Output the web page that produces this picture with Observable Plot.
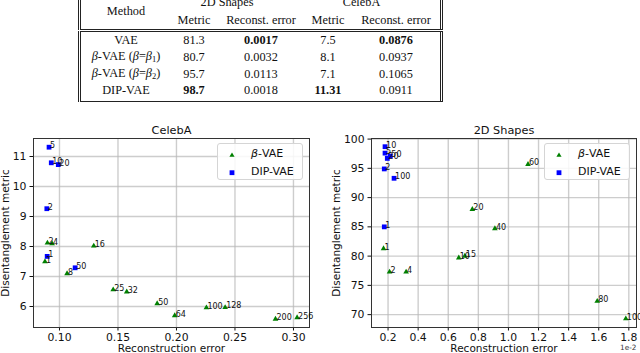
<!DOCTYPE html>
<html><head><meta charset="utf-8">
<script src="https://cdn.jsdelivr.net/npm/d3@7"></script>
<script src="https://cdn.jsdelivr.net/npm/@observablehq/plot@0.6"></script>
<style>
html,body{margin:0;padding:0;background:#fff;}
body{width:640px;height:353px;overflow:hidden;position:relative;font-family:"DejaVu Sans",sans-serif;}
.tb{position:absolute;box-sizing:border-box;border-left:3px double #222;border-right:3px double #222;}
.tc{position:absolute;transform:translate(-50%,-50%);white-space:nowrap;font-family:"Liberation Serif",serif;font-size:12.3px;color:#111;line-height:1;}
.tc sub{font-size:8.5px;vertical-align:-2px;}
.pl{position:absolute;top:110px;width:320px;height:243px;}
.lg{position:absolute;box-sizing:border-box;border:1px solid #d5d5d5;border-radius:3px;background:rgba(255,255,255,0.85);font-size:11px;color:#111;}
.lr{position:absolute;left:0;height:14px;line-height:14px;white-space:nowrap;}
.lr svg{position:absolute;left:9px;top:3px;}
.lr span{position:absolute;left:33px;top:0;}
</style></head><body>
<div id="table"></div>
<div id="left" class="pl" style="left:0"></div>
<div id="right" class="pl" style="left:320px"></div>
<script>
// ---------- table data ----------
const methodLabels = ["VAE", "<i>β</i>-VAE (<i>β</i>=<i>β</i><sub>1</sub>)", "<i>β</i>-VAE (<i>β</i>=<i>β</i><sub>2</sub>)", "DIP-VAE"];
const shapesMetric = ["81.3", "80.7", "95.7", "98.7"];
const shapesRecon = ["0.0017", "0.0032", "0.0113", "0.0018"];
const celebMetric = ["7.5", "8.1", "7.1", "11.31"];
const celebRecon = ["0.0876", "0.0937", "0.1065", "0.0911"];
const groupHeaders = ["2D Shapes", "CelebA"];
const subHeaders = ["Metric", "Reconst. error", "Metric", "Reconst. error"];

// ---------- CelebA scatter data ----------
const celebBetaLabels = ["1","2","4","8","16","25","32","50","64","100","128","200","256"];
const celebBetaX = [0.0876,0.0897,0.0937,0.1065,0.1293,0.1459,0.1575,0.1835,0.1985,0.2256,0.2416,0.2846,0.3031];
const celebBetaY = [7.5,8.12,8.1,7.1,8.02,6.56,6.49,6.1,5.7,5.96,5.97,5.58,5.63];
const celebDipLabels = ["1","2","5","10","20","50"];
const celebDipX = [0.0895,0.0892,0.0911,0.093,0.099,0.1134];
const celebDipY = [7.67,9.26,11.31,10.79,10.73,7.29];

// ---------- 2D Shapes scatter data (x in units of 1e-2) ----------
const shapesBetaLabels = ["1","2","4","10","15","20","40","60","80","100"];
const shapesBetaX = [0.17,0.21,0.32,0.67,0.71,0.76,0.91,1.13,1.59,1.78];
const shapesBetaY = [81.3,77.3,77.3,79.7,80.0,88.0,84.7,95.7,72.3,69.3];
const shapesDipLabels = ["1","2","5","10","20","50","100"];
const shapesDipX = [0.175,0.175,0.18,0.18,0.195,0.215,0.24];
const shapesDipY = [85.0,94.9,97.6,98.7,96.7,97.1,93.3];

// ---------- ticks ----------
const celebXTicks = [0.10,0.15,0.20,0.25,0.30];
const celebYTicks = [6,7,8,9,10,11];
const shapesXTicks = [0.2,0.4,0.6,0.8,1.0,1.2,1.4,1.6,1.8];
const shapesYTicks = [70,75,80,85,90,95,100];
const legendLabels = ["<i>β</i>-VAE", "DIP-VAE"];

// ---------- table ----------
const T = document.getElementById("table");
function box(top, bottom){
  const d = document.createElement("div"); d.className = "tb";
  d.style.left = "78px"; d.style.width = "365px"; d.style.top = top + "px"; d.style.height = (bottom - top) + "px";
  d.style.borderTop = "1px solid #222"; d.style.borderBottom = "1px solid #222";
  T.appendChild(d);
}
box(-12, 29.5); box(31, 101.5);
function cell(html, x, y, bold){
  const s = document.createElement("div"); s.className = "tc"; s.innerHTML = html;
  s.style.left = x + "px"; s.style.top = y + "px"; if (bold) s.style.fontWeight = "bold";
  T.appendChild(s);
}
const colX = [126, 194, 261, 328, 396];
const rowY = [40, 57, 73.7, 90.3];
cell("Method", colX[0], 11);
cell(groupHeaders[0], (colX[1]+colX[2])/2 - 0.5, 2);
cell(groupHeaders[1], (colX[3]+colX[4])/2 - 0.5, 2);
subHeaders.forEach((h,i) => cell(h, colX[i+1], 20));
const cols = [shapesMetric, shapesRecon, celebMetric, celebRecon];
const best = cols.map((c,i) => { const v = c.map(Number); return i % 2 === 0 ? d3.maxIndex(v) : d3.minIndex(v); });
methodLabels.forEach((m,r) => {
  cell(m, colX[0], rowY[r]);
  cols.forEach((c,i) => cell(c[r], colX[i+1], rowY[r], best[i] === r));
});

// ---------- scatter plots ----------
const zip = (L,X,Y) => L.map((l,i) => ({label:l, x:X[i], y:Y[i]}));
function scatter(o){
  const beta = zip(o.betaL, o.betaX, o.betaY), dip = zip(o.dipL, o.dipX, o.dipY);
  const marks = [
    Plot.gridX(o.xTicks, {stroke:"#b8b8b8", strokeOpacity:0.7, strokeWidth:1.4}),
    Plot.gridY(o.yTicks, {stroke:"#b8b8b8", strokeOpacity:0.7, strokeWidth:1.4}),
    Plot.axisX(o.xTicks, {tickSize:3.5, tickPadding:2.5, tickFormat:d3.format(o.xFmt), label:null, fontSize:10.8}),
    Plot.axisY(o.yTicks, {tickSize:3.5, tickPadding:3.5, tickFormat:d => String(d), label:null, fontSize:10.8}),
    Plot.frame({stroke:"#333", strokeWidth:1}),
    Plot.dot(beta, {x:"x", y:"y", symbol:"triangle", r:2.1, fill:"#008000", stroke:"none"}),
    Plot.dot(dip, {x:"x", y:"y", symbol:"square", r:2.7, fill:"#0000ff", stroke:"none"}),
    Plot.text(beta, {x:"x", y:"y", text:"label", textAnchor:"start", lineAnchor:"bottom", dx:1, dy:1, fontSize:8, fill:"#111"}),
    Plot.text(dip, {x:"x", y:"y", text:"label", textAnchor:"start", lineAnchor:"bottom", dx:1, dy:1, fontSize:8, fill:"#111"}),
    Plot.text([o.title], {text:d => d, frameAnchor:"top", lineAnchor:"middle", dy:-8, fontSize:11.3, fill:"#111"}),
    Plot.text(["Reconstruction error"], {text:d => d, frameAnchor:"bottom", textAnchor:"middle", lineAnchor:"middle", dy:21.5, fontSize:10.5, fill:"#111"}),
    Plot.text(["Disentanglement metric"], {text:d => d, frameAnchor:"left", textAnchor:"middle", rotate:-90, lineAnchor:"middle", dx:o.yLabelDx, fontSize:10.5, fill:"#111"})
  ];
  if (o.offset) marks.push(Plot.text([o.offset], {text:d => d, frameAnchor:"bottom-right", textAnchor:"end", lineAnchor:"middle", dy:20, fontSize:7.3, fill:"#333"}));
  return Plot.plot({
    width:320, height:243, marginTop:28, marginBottom:26, marginLeft:o.ml, marginRight:o.mr,
    style:{fontFamily:"DejaVu Sans", fontSize:"10.8px", color:"#111", background:"transparent"},
    x:{domain:o.xDomain}, y:{domain:o.yDomain},
    marks
  });
}
function legend(container, frameRight){
  const lg = document.createElement("div"); lg.className = "lg";
  lg.style.left = (frameRight - 6 - 86) + "px"; lg.style.top = "33px"; lg.style.width = "86px"; lg.style.height = "37px";
  const syms = ['<svg width="10" height="10"><path d="M5,2.4 L7.6,6.8 L2.4,6.8 Z" fill="#008000"/></svg>',
                '<svg width="10" height="10"><rect x="2.6" y="2.3" width="4.8" height="4.8" fill="#0000ff"/></svg>'];
  legendLabels.forEach((l,i) => {
    const r = document.createElement("div"); r.className = "lr"; r.style.top = (3 + i*18) + "px";
    r.innerHTML = syms[i] + "<span>" + l + "</span>";
    lg.appendChild(r);
  });
  container.appendChild(lg);
}
const L = document.getElementById("left");
L.appendChild(scatter({title:"CelebA", betaL:celebBetaLabels, betaX:celebBetaX, betaY:celebBetaY,
  dipL:celebDipLabels, dipX:celebDipX, dipY:celebDipY, xTicks:celebXTicks, yTicks:celebYTicks, xFmt:".2f",
  xDomain:[0.0778,0.3137], yDomain:[5.3,11.6], ml:33, mr:11, yLabelDx:-28}));
legend(L, 309);
const R = document.getElementById("right");
R.appendChild(scatter({title:"2D Shapes", betaL:shapesBetaLabels, betaX:shapesBetaX, betaY:shapesBetaY,
  dipL:shapesDipLabels, dipX:shapesDipX, dipY:shapesDipY, xTicks:shapesXTicks, yTicks:shapesYTicks, xFmt:".1f",
  xDomain:[0.09,1.851], yDomain:[67.8,100.1], ml:51, mr:4, yLabelDx:-35, offset:"1e-2"}));
legend(R, 316);
</script>
</body></html>
